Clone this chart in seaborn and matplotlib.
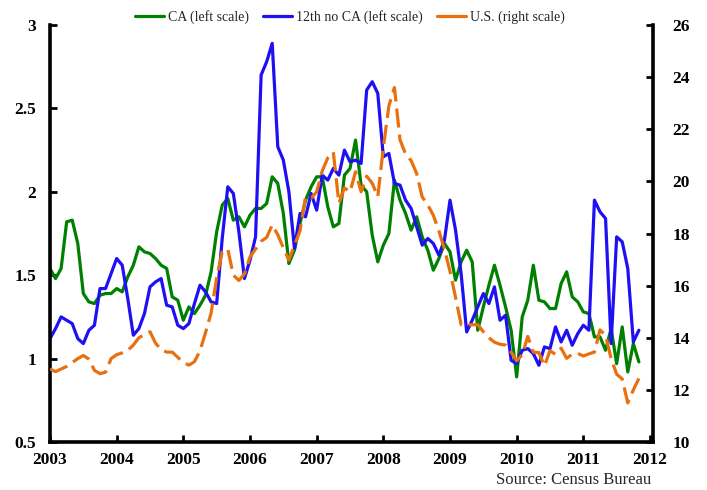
import numpy as np
import pandas as pd
import matplotlib
matplotlib.use("Agg")
import matplotlib.pyplot as plt
from matplotlib.lines import Line2D
from matplotlib.ticker import FuncFormatter
import seaborn as sns

# ---- data (monthly, Jan 2003 - Nov 2011) ----
start_year = 2003
ca = [1.54, 1.48, 1.54, 1.82, 1.83, 1.69, 1.39, 1.34, 1.33, 1.38, 1.39, 1.39,
      1.42, 1.40, 1.49, 1.56, 1.67, 1.64, 1.63, 1.60, 1.56, 1.54, 1.37, 1.35,
      1.23, 1.31, 1.27, 1.32, 1.38, 1.52, 1.76, 1.92, 1.96, 1.83, 1.85, 1.79,
      1.86, 1.90, 1.90, 1.93, 2.09, 2.05, 1.87, 1.57, 1.65, 1.81, 1.95, 2.03,
      2.09, 2.09, 1.91, 1.79, 1.81, 2.10, 2.14, 2.31, 2.04, 2.00, 1.74, 1.58,
      1.68, 1.75, 2.07, 1.95, 1.87, 1.77, 1.85, 1.73, 1.65, 1.53, 1.60, 1.69,
      1.64, 1.47, 1.58, 1.65, 1.58, 1.17, 1.31, 1.44, 1.56, 1.44, 1.31, 1.17,
      0.89, 1.25, 1.35, 1.56, 1.35, 1.34, 1.30, 1.30, 1.45, 1.52, 1.37, 1.34,
      1.28, 1.27, 1.13, 1.13, 1.05, 1.18, 0.97, 1.19, 0.92, 1.09, 0.98]
twelfth_no_ca = [1.12, 1.18, 1.25, 1.23, 1.21, 1.12, 1.09, 1.17, 1.20, 1.42, 1.42, 1.51,
                 1.60, 1.56, 1.36, 1.14, 1.18, 1.27, 1.43, 1.46, 1.48, 1.32, 1.31, 1.20,
                 1.18, 1.21, 1.33, 1.44, 1.40, 1.34, 1.33, 1.72, 2.03, 1.99, 1.76, 1.48,
                 1.59, 1.73, 2.70, 2.78, 2.89, 2.27, 2.19, 2.00, 1.66, 1.87, 1.85, 1.99,
                 1.89, 2.10, 2.07, 2.14, 2.10, 2.25, 2.18, 2.19, 2.17, 2.61, 2.66, 2.59,
                 2.21, 2.23, 2.05, 2.04, 1.95, 1.90, 1.79, 1.68, 1.72, 1.69, 1.62, 1.71,
                 1.95, 1.77, 1.51, 1.16, 1.23, 1.31, 1.39, 1.33, 1.43, 1.23, 1.26, 0.99,
                 0.97, 1.05, 1.06, 1.03, 0.96, 1.07, 1.06, 1.19, 1.10, 1.17, 1.08, 1.15,
                 1.20, 1.17, 1.95, 1.88, 1.84, 1.09, 1.73, 1.70, 1.54, 1.10, 1.17]
us = [12.80, 12.70, 12.80, 12.90, 13.05, 13.20, 13.32, 13.18, 12.75, 12.62, 12.68, 13.20,
      13.35, 13.42, 13.52, 13.72, 14.00, 14.12, 14.23, 13.79, 13.55, 13.45, 13.45, 13.25,
      13.05, 12.95, 13.08, 13.50, 14.20, 14.95, 16.30, 17.30, 17.40, 16.40, 16.20, 16.45,
      17.10, 17.40, 17.70, 17.85, 18.33, 17.95, 17.45, 16.98, 17.55, 18.10, 19.40, 19.35,
      19.60, 20.40, 20.90, 21.12, 19.16, 19.75, 19.60, 20.37, 19.60, 20.20, 19.93, 19.41,
      21.30, 22.90, 23.60, 21.60, 21.05, 20.80, 20.30, 19.40, 19.10, 18.70, 18.10, 17.40,
      16.55, 15.55, 14.50, 14.50, 14.50, 14.50, 14.23, 14.00, 13.83, 13.75, 13.72, 13.45,
      13.12, 13.34, 14.05, 13.45, 13.43, 12.92, 13.50, 13.36, 13.60, 13.21, 13.37, 13.40,
      13.30, 13.38, 13.45, 14.30, 14.10, 13.20, 12.60, 12.42, 11.50, 12.00, 12.44]

series_labels = ["CA (left scale)", "12th no CA (left scale)", "U.S. (right scale)"]
x_ticks = list(range(2003, 2013))
left_ticks = [0.5, 1, 1.5, 2, 2.5, 3]
right_ticks = list(range(10, 27, 2))
source_text = "Source: Census Bureau"

GREEN = "#008000"
BLUE = "#1e10f2"
ORANGE = "#e8700e"

sns.set_theme(style="white")
plt.rcParams['font.family'] = ['Liberation Serif', 'DejaVu Serif']

n = len(ca)
df = pd.DataFrame({
    "t": start_year + np.arange(n) / 12.0,
    "ca": ca,
    "tw": twelfth_no_ca,
    "us": us,
})

fig = plt.figure(figsize=(7.07, 4.9), dpi=100)
ax = fig.add_axes([50 / 707, 1 - 442 / 490, (653 - 50) / 707, (442 - 25) / 490])
ax2 = ax.twinx()

lw = 2.3
sns.lineplot(data=df, x="t", y="ca", ax=ax, color=GREEN, linewidth=lw)
sns.lineplot(data=df, x="t", y="tw", ax=ax, color=BLUE, linewidth=lw)
sns.lineplot(data=df, x="t", y="us", ax=ax2, color=ORANGE, linewidth=lw)
for ln in ax2.lines:
    ln.set_dashes((6, 2.2))
    ln.set_dash_capstyle("butt")

ax.set_xlim(2003, 2012.045)
ax.set_ylim(0.5, 3)
ax2.set_ylim(10, 26)
ax.set_xticks(x_ticks)
ax.set_yticks(left_ticks)
ax2.set_yticks(right_ticks)
ax.yaxis.set_major_formatter(FuncFormatter(lambda v, p: f"{v:g}"))
ax.set_xlabel("")
ax.set_ylabel("")
ax2.set_ylabel("")

for a in (ax, ax2):
    a.grid(False)
    a.spines["top"].set_visible(False)
    for s in ("left", "right", "bottom"):
        a.spines[s].set_linewidth(2.6)
        a.spines[s].set_color("black")
ax.spines["right"].set_visible(False)
ax2.spines["left"].set_visible(False)
ax2.spines["bottom"].set_visible(False)

ax.tick_params(axis="x", direction="in", length=5, width=2, pad=7,
               labelsize=12.5, colors="black", bottom=True)
ax.tick_params(axis="y", direction="in", length=5, width=2, pad=10,
               labelsize=12.5, colors="black", left=True)
ax2.tick_params(axis="y", direction="in", length=5, width=2, pad=14,
                labelsize=12.5, colors="black", right=True)
for lab in ax.get_xticklabels() + ax.get_yticklabels() + ax2.get_yticklabels():
    lab.set_fontweight("bold")

handles = [Line2D([], [], color=GREEN, lw=lw),
           Line2D([], [], color=BLUE, lw=lw),
           Line2D([], [], color=ORANGE, lw=lw)]
fig.legend(handles, series_labels, loc="upper center", bbox_to_anchor=(0.495, 1.005),
           ncol=3, frameon=False, fontsize=10, handlelength=2.1,
           handletextpad=0.3, columnspacing=1.0)

fig.text(0.921, 0.004, source_text, ha="right", va="bottom", fontsize=12)

fig.savefig("out.png", dpi=100)
